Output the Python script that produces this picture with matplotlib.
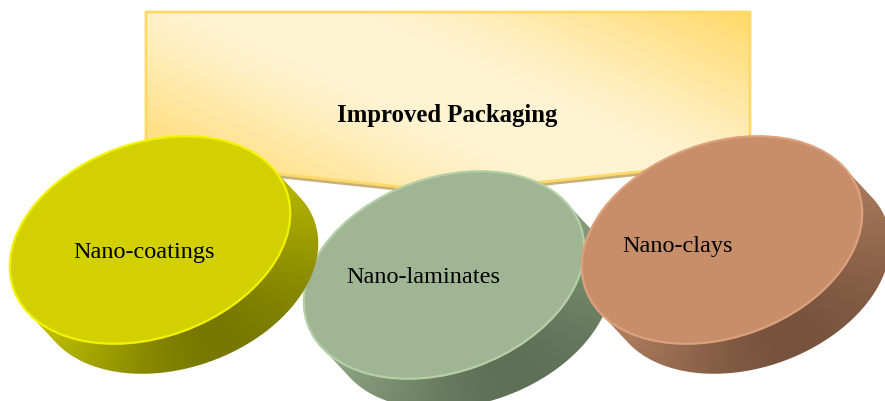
import numpy as np
import matplotlib
matplotlib.use('Agg')
import matplotlib.pyplot as plt
from matplotlib.patches import Polygon, Ellipse
from matplotlib.colors import to_rgb

# Text of the diagram
title = "Improved Packaging"
labels = ["Nano-coatings", "Nano-laminates", "Nano-clays"]

# Disc colours: top face, rim, lit side, shaded side
face_colors = ['#D3D000', '#9FB594', '#C88E6A']
rim_colors = ['#F2F200', '#B4D0A6', '#DCA07C']
side_light = ['#EFEF00', '#AAC49C', '#D69C76']
side_dark = ['#787800', '#5E7056', '#77533E']

# Layout in pixels (y grows downwards)
centers = [(150, 241), (444, 276), (722, 241)]
text_pos = [(73, 258), (346, 283), (622, 252)]
draw_order = [1, 0, 2]
A, B, TILT = 145, 97, np.radians(20)
DEPTH = (28, 30)

banner = [(146, 13), (750, 13), (750, 161), (448, 193), (146, 161)]


def hull(pts):
    pts = sorted(set(map(tuple, np.round(pts, 2))))

    def cross(o, a, b):
        return (a[0] - o[0]) * (b[1] - o[1]) - (a[1] - o[1]) * (b[0] - o[0])
    lower, upper = [], []
    for p in pts:
        while len(lower) >= 2 and cross(lower[-2], lower[-1], p) <= 0:
            lower.pop()
        lower.append(p)
    for p in reversed(pts):
        while len(upper) >= 2 and cross(upper[-2], upper[-1], p) <= 0:
            upper.pop()
        upper.append(p)
    return np.array(lower[:-1] + upper[:-1])


def ellipse_pts(cx, cy, n=360):
    t = np.linspace(0, 2 * np.pi, n, endpoint=False)
    u, v = A * np.cos(t), B * np.sin(t)
    x = cx + u * np.cos(TILT) + v * np.sin(TILT)
    y = cy - u * np.sin(TILT) + v * np.cos(TILT)
    return np.column_stack([x, y])


fig = plt.figure(figsize=(8.85, 4.02), dpi=100)
ax = fig.add_axes([0, 0, 1, 1])
ax.set_xlim(0, 885)
ax.set_ylim(402, 0)
ax.axis('off')

# Banner with diagonal gradient (light band top-left -> bottom-right)
bx0, bx1, by0, by1 = 146, 751, 13, 194
X, Y = np.meshgrid(np.arange(bx0, bx1), np.arange(by0, by1))
d = (X - 276) * 0.425 - (Y - 13) * 0.906
m = np.clip((np.abs(d) - 35) / 170, 0, 1) ** 1.2
light, dark = np.array(to_rgb('#FFF3D2')), np.array(to_rgb('#FFD864'))
img = light * (1 - m[..., None]) + dark * m[..., None]

shadow = Polygon([(146, 161), (448, 193), (750, 161), (750, 165),
                  (448, 197), (146, 165)], closed=True,
                 facecolor='#C8B07A', edgecolor='none', zorder=1)
ax.add_patch(shadow)
bpoly = Polygon(banner, closed=True, facecolor='none', edgecolor='#FFD966',
                lw=2, zorder=3)
ax.add_patch(bpoly)
im = ax.imshow(img, extent=(bx0, bx1, by1, by0), origin='upper',
               zorder=2, interpolation='bilinear')
im.set_clip_path(Polygon(banner, closed=True, transform=ax.transData))
ax.text(447, 122, title, family='Liberation Serif', fontweight='bold',
        fontsize=17.8, ha='center', va='baseline', zorder=4)

# Discs
z = 5
for i in draw_order:
    cx, cy = centers[i]
    top = ellipse_pts(cx, cy)
    outline = hull(np.vstack([top, top + np.array(DEPTH)]))
    x0, y0 = outline.min(axis=0).astype(int) - 2
    x1, y1 = outline.max(axis=0).astype(int) + 2
    X, Y = np.meshgrid(np.arange(x0, x1), np.arange(y0, y1))
    phi = np.arctan2(Y - cy, X - cx)
    s = ((1 + np.cos(phi - np.radians(55))) / 2) ** 1.5
    lc, dc = np.array(to_rgb(side_light[i])), np.array(to_rgb(side_dark[i]))
    simg = lc * (1 - s[..., None]) + dc * s[..., None]
    sim = ax.imshow(simg, extent=(x0, x1, y1, y0), origin='upper',
                    zorder=z, interpolation='bilinear')
    sim.set_clip_path(Polygon(outline, closed=True, transform=ax.transData))
    face = Ellipse((cx, cy), 2 * A, 2 * B, angle=-np.degrees(TILT),
                   facecolor=face_colors[i], edgecolor=rim_colors[i],
                   lw=1.6, zorder=z + 1)
    ax.add_patch(face)
    tx, ty = text_pos[i]
    ax.text(tx, ty, labels[i], family='Liberation Serif', fontsize=17.5,
            ha='left', va='baseline', zorder=z + 2)
    z += 3

ax.set_aspect('auto')
ax.set_xlim(0, 885)
ax.set_ylim(402, 0)
fig.savefig('out.png', dpi=100)
